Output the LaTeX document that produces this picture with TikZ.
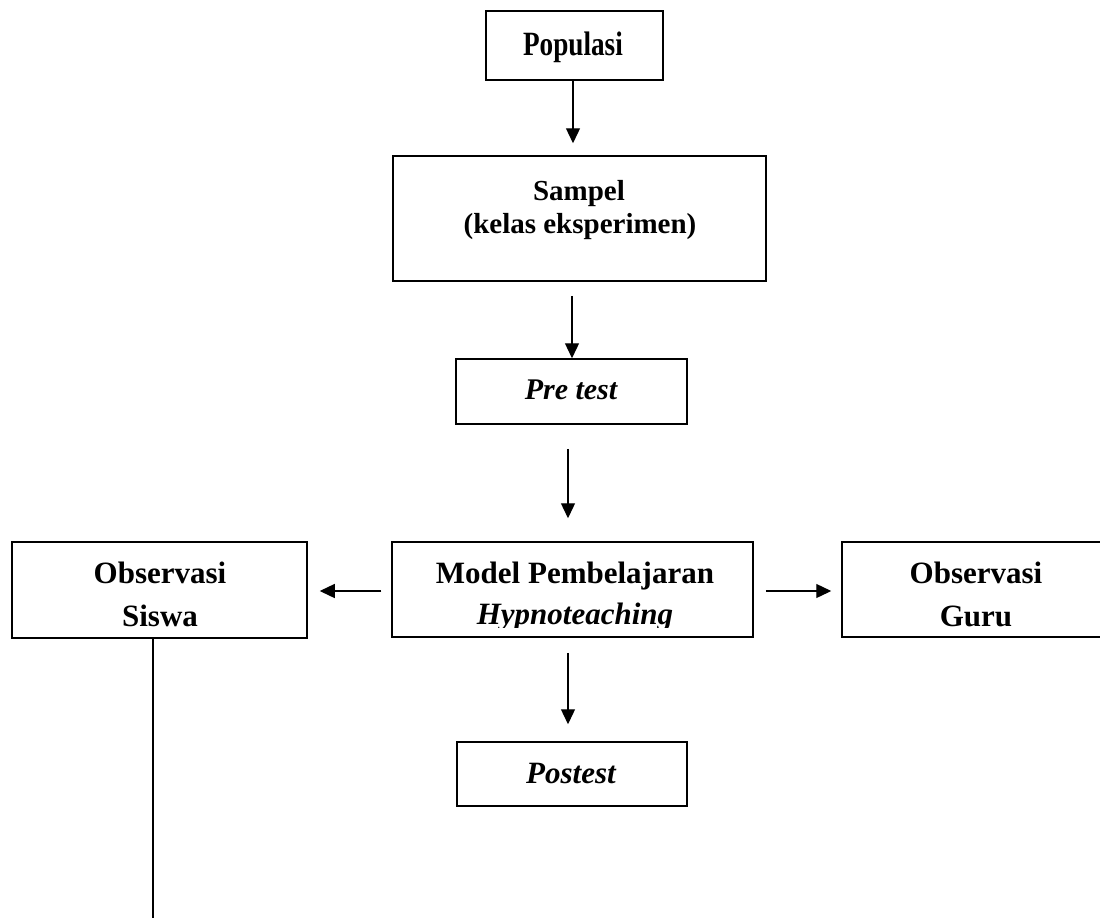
\documentclass[tikz,border=0pt]{standalone}
\usepackage{fontspec}
\usepackage{graphicx}
\setmainfont{Liberation Serif}
\usetikzlibrary{arrows.meta}
\begin{document}
\begin{tikzpicture}[x=1pt,y=-1pt,
  box/.style n args={2}{draw, line width=1.5pt, inner sep=0pt, minimum width=#1pt, minimum height=#2pt},
  arr/.style={line width=1.3pt, -{Triangle[length=15pt,width=14pt]}},
  ln/.style={line width=1.3pt},
  txt/.style={anchor=base, inner sep=0pt, font=\bfseries\fontsize{31}{37}\selectfont},
  itxt/.style={anchor=base, inner sep=0pt, font=\bfseries\itshape\fontsize{31}{37}\selectfont}]
\useasboundingbox (0,0) rectangle (1100,918);
\clip (0,0) rectangle (1100,918);

% boxes
\node[box={177}{69}] (pop) at (574.5,45.5) {};
\node[box={373}{125}] (sam) at (579.5,218.5) {};
\node[box={231}{65}] (pre) at (571.5,391.5) {};
\node[box={361}{95}] (model) at (572.5,589.5) {};
\node[box={295}{96}] (siswa) at (159.5,590) {};
\node[box={268}{95}] (guru) at (976,589.5) {};
\node[box={230}{64}] (post) at (572,774) {};

% texts
\node[anchor=base, inner sep=0pt] (tpop) at (573,55)
  {\scalebox{0.8}[1]{\fontsize{34}{40}\selectfont\bfseries Populasi}};
\node[txt, font=\bfseries\fontsize{29}{35}\selectfont] (tsam1) at (579,200) {Sampel};
\node[txt, font=\bfseries\fontsize{29}{35}\selectfont] (tsam2) at (580,233) {(kelas eksperimen)};
\node[itxt, font=\bfseries\itshape\fontsize{30}{36}\selectfont] (tpre) at (571,399) {Pre test};
\node[txt] (tmod1) at (575,583) {Model Pembelajaran};
\begin{scope}
  \clip ([yshift=-2pt]model.north west) rectangle ([yshift=10pt]model.south east);
  \node[itxt] (tmod2) at (575,624) {Hypnoteaching};
\end{scope}
\node[txt] (tsis1) at (160,583) {Observasi};
\node[txt] (tsis2) at (160,626) {Siswa};
\node[txt] (tgur1) at (976,583) {Observasi};
\node[txt] (tgur2) at (976,626) {Guru};
\node[itxt] (tpost) at (571,783) {Postest};

% connectors
\draw[arr, shorten >=12pt] ([xshift=-1.5pt]pop.south) -- ([xshift=-6.5pt]sam.north);
\draw[arr, shorten <=14pt] ([xshift=-7.5pt]sam.south) -- ([xshift=0.5pt]pre.north);
\draw[arr, shorten <=24pt, shorten >=23pt] ([xshift=-3.5pt]pre.south) -- ([xshift=-4.5pt]model.north);
\draw[arr, shorten <=10pt, shorten >=12pt] ([yshift=-1.5pt]model.west) -- ([yshift=-1pt]siswa.east);
\draw[arr, shorten <=12pt, shorten >=10pt] ([yshift=-1.5pt]model.east) -- ([yshift=-1.5pt]guru.west);
\draw[arr, shorten <=15pt, shorten >=17pt] ([xshift=-4.5pt]model.south) -- ([xshift=-4pt]post.north);
\coordinate (lineend) at (153,925);
\draw[ln] ([xshift=-6.5pt]siswa.south) -- (lineend);
\end{tikzpicture}
\end{document}
